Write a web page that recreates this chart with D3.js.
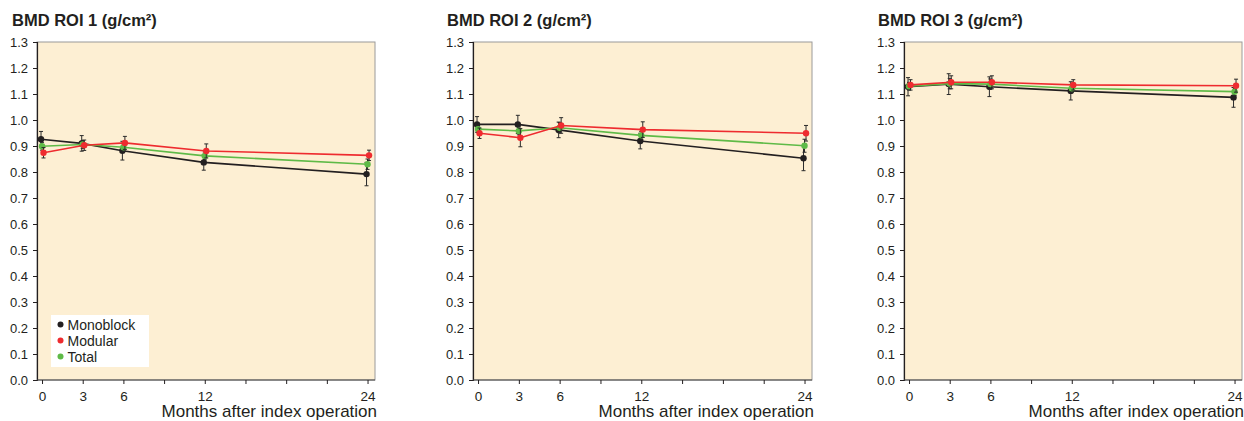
<!DOCTYPE html>
<html>
<head>
<meta charset="utf-8">
<script src="https://cdn.jsdelivr.net/npm/d3@7"></script>
<style>
  body { margin: 0; background: #fff; }
  svg { display: block; font-family: "Liberation Sans", Arial, Helvetica, sans-serif; }
</style>
</head>
<body>
<svg id="chart" width="1244" height="421"></svg>
<script>
// data
var months = [0, 3, 6, 12, 24];
var xTickValues = [0, 3, 6, 9, 12, 15, 18, 21, 24];
var xTickLabels = [0, 3, 6, 12, 24];
var yTickValues = [0, 0.1, 0.2, 0.3, 0.4, 0.5, 0.6, 0.7, 0.8, 0.9, 1.0, 1.1, 1.2, 1.3];
var panelTitles = ['BMD ROI 1 (g/cm\u00b2)', 'BMD ROI 2 (g/cm\u00b2)', 'BMD ROI 3 (g/cm\u00b2)'];
var seriesNames = ['Monoblock', 'Modular', 'Total'];

var roi1Mono = [0.926, 0.910, 0.882, 0.837, 0.792];
var roi1MonoErr = [0.030, 0.030, 0.036, 0.030, 0.045];
var roi1Mod = [0.874, 0.903, 0.912, 0.881, 0.864];
var roi1ModErr = [0.020, 0.020, 0.025, 0.027, 0.020];
var roi1Total = [0.899, 0.906, 0.895, 0.862, 0.830];
var roi1TotalErr = [0.015, 0.015, 0.015, 0.015, 0.020];

var roi2Mono = [0.983, 0.983, 0.962, 0.919, 0.853];
var roi2MonoErr = [0.030, 0.035, 0.030, 0.030, 0.048];
var roi2Mod = [0.949, 0.932, 0.979, 0.963, 0.949];
var roi2ModErr = [0.020, 0.035, 0.030, 0.030, 0.030];
var roi2Total = [0.965, 0.958, 0.970, 0.941, 0.901];
var roi2TotalErr = [0.012, 0.015, 0.020, 0.015, 0.025];

var roi3Mono = [1.128, 1.138, 1.128, 1.112, 1.087];
var roi3MonoErr = [0.035, 0.040, 0.038, 0.035, 0.038];
var roi3Mod = [1.135, 1.145, 1.145, 1.135, 1.132];
var roi3ModErr = [0.020, 0.025, 0.025, 0.020, 0.025];
var roi3Total = [1.130, 1.140, 1.138, 1.122, 1.109];
var roi3TotalErr = [0.015, 0.020, 0.020, 0.015, 0.015];

var panelData = [
    [ [roi1Mono, roi1MonoErr], [roi1Mod, roi1ModErr], [roi1Total, roi1TotalErr] ],
    [ [roi2Mono, roi2MonoErr], [roi2Mod, roi2ModErr], [roi2Total, roi2TotalErr] ],
    [ [roi3Mono, roi3MonoErr], [roi3Mod, roi3ModErr], [roi3Total, roi3TotalErr] ]
];

(function() {
    // styling
    var colors = ['#231f20', '#ee2b2f', '#5fba47'];
    var dodge = [-1, 1.5, 0];       // small horizontal offset per series, as in the figure
    var drawOrder = [0, 2, 1];
    var panels = [
        { left: 37, right: 375, titleX: 12 },
        { left: 473, right: 812, titleX: 447 },
        { left: 904, right: 1242, titleX: 878 }
    ];
    var plotTop = 42, plotBottom = 380;
    var textColor = '#231f20';

    var svg = d3.select('#chart');

    panels.forEach(function(p, pi) {
        var x = d3.scaleLinear().domain([-0.37, 24.55]).range([p.left, p.right]);
        var y = d3.scaleLinear().domain([0, 1.3]).range([plotBottom, plotTop]);
        var g = svg.append('g');

        // plot background + light frame on top/right
        g.append('rect')
            .attr('x', p.left).attr('y', plotTop)
            .attr('width', p.right - p.left).attr('height', plotBottom - plotTop)
            .attr('fill', '#fdefd3')
            .attr('stroke', '#9a9a9a').attr('stroke-width', 1);

        // title
        g.append('text')
            .attr('x', p.titleX).attr('y', 26)
            .attr('font-size', 16.5).attr('font-weight', 'bold')
            .attr('fill', textColor)
            .text(panelTitles[pi]);

        // y axis
        var yAxis = g.append('g')
            .attr('transform', 'translate(' + p.left + ',0)')
            .call(d3.axisLeft(y).tickValues(yTickValues).tickSize(4).tickPadding(5)
                .tickFormat(d3.format('.1f')));
        yAxis.select('.domain').attr('stroke', textColor).attr('stroke-width', 1.2);
        yAxis.selectAll('.tick line').attr('stroke', textColor);
        yAxis.selectAll('.tick text').attr('font-size', 13).attr('fill', textColor)
            .attr('font-family', '"Liberation Sans", Arial, sans-serif');

        // x axis
        var xAxis = g.append('g')
            .attr('transform', 'translate(0,' + plotBottom + ')')
            .call(d3.axisBottom(x).tickValues(xTickValues).tickSize(4).tickPadding(7)
                .tickFormat(function(d) { return xTickLabels.indexOf(d) >= 0 ? d : ''; }));
        xAxis.select('.domain').attr('d', 'M' + p.left + ',0H' + p.right)
            .attr('stroke', '#444').attr('stroke-width', 1.2);
        xAxis.selectAll('.tick line').attr('stroke', textColor);
        xAxis.selectAll('.tick text').attr('font-size', 13.5).attr('fill', textColor)
            .attr('font-family', '"Liberation Sans", Arial, sans-serif');

        g.append('text')
            .attr('x', p.right + 2).attr('y', 417)
            .attr('text-anchor', 'end')
            .attr('font-size', 17)
            .attr('fill', textColor)
            .text('Months after index operation');

        // series
        drawOrder.forEach(function(si) {
            var vals = panelData[pi][si][0];
            var errs = panelData[pi][si][1];
            var pts = months.map(function(m, i) {
                return { x: x(m) + dodge[si], v: vals[i], e: errs[i] };
            });

            var eb = g.append('g').attr('stroke', '#2a2a2a').attr('stroke-width', 1);
            pts.forEach(function(d) {
                eb.append('line').attr('x1', d.x).attr('x2', d.x)
                    .attr('y1', y(d.v - d.e)).attr('y2', y(d.v + d.e));
                eb.append('line').attr('x1', d.x - 2).attr('x2', d.x + 2)
                    .attr('y1', y(d.v - d.e)).attr('y2', y(d.v - d.e));
                eb.append('line').attr('x1', d.x - 2).attr('x2', d.x + 2)
                    .attr('y1', y(d.v + d.e)).attr('y2', y(d.v + d.e));
            });

            var line = d3.line().x(function(d) { return d.x; }).y(function(d) { return y(d.v); });
            g.append('path').datum(pts)
                .attr('d', line)
                .attr('fill', 'none')
                .attr('stroke', colors[si])
                .attr('stroke-width', 1.6);

            g.selectAll(null).data(pts).enter().append('circle')
                .attr('cx', function(d) { return d.x; })
                .attr('cy', function(d) { return y(d.v); })
                .attr('r', 3.2)
                .attr('fill', colors[si]);
        });

        // legend only in the first panel
        if (pi === 0) {
            var lg = g.append('g');
            lg.append('rect')
                .attr('x', 51).attr('y', 315).attr('width', 98).attr('height', 52)
                .attr('fill', '#fff');
            seriesNames.forEach(function(name, i) {
                var ly = 324.5 + i * 16;
                lg.append('circle').attr('cx', 60.5).attr('cy', ly).attr('r', 3).attr('fill', colors[i]);
                lg.append('text').attr('x', 67.5).attr('y', ly + 5)
                    .attr('font-size', 14).attr('fill', textColor)
                    .text(name);
            });
        }
    });
})();
</script>
</body>
</html>
